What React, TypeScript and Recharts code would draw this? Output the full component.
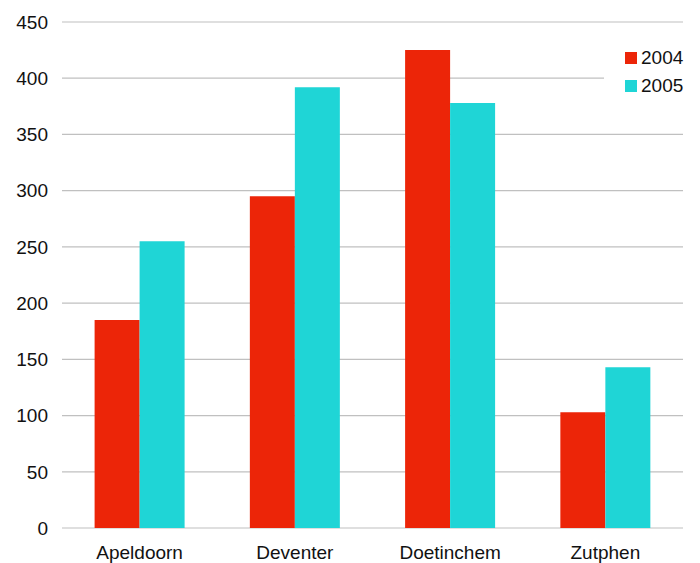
import { BarChart, Bar, XAxis, YAxis, CartesianGrid } from 'recharts';

const cities = ['Apeldoorn', 'Deventer', 'Doetinchem', 'Zutphen'];
const values2004 = [185, 295, 425, 103];
const values2005 = [255, 392, 378, 143];
const yTicks = [0, 50, 100, 150, 200, 250, 300, 350, 400, 450];

const RED = '#ec2508';
const CYAN = '#1fd5d6';
const FONT = '"Liberation Sans", Arial, Helvetica, sans-serif';

const series = [
  { key: '2004', color: RED },
  { key: '2005', color: CYAN },
];

const chartData = cities.map((city, i) => ({
  name: city,
  '2004': values2004[i],
  '2005': values2005[i],
}));

// legend sits on top of the plot with a white backing, hiding the gridline behind it
const LegendBox = () => (
  <div
    style={{
      position: 'absolute',
      top: 42,
      left: 604,
      width: 86,
      background: '#fff',
      padding: '2px 0 6px 21px',
      boxSizing: 'border-box',
      fontFamily: FONT,
      fontSize: 19,
      color: '#111',
      lineHeight: '28px',
    }}
  >
    {series.map((item) => (
      <div key={item.key} style={{ display: 'flex', alignItems: 'center' }}>
        <span
          style={{ width: 12, height: 12, background: item.color, display: 'inline-block', marginRight: 4 }}
        />
        {item.key}
      </div>
    ))}
  </div>
);

export default function App() {
  return (
    <div style={{ position: 'absolute', top: 0, left: 0, width: 700, height: 563, background: '#fff' }}>
      <BarChart
        width={700}
        height={563}
        data={chartData}
        margin={{ top: 22, right: 17, left: 0, bottom: 0 }}
        barCategoryGap="21%"
        barGap={0}
      >
        <CartesianGrid vertical={false} stroke="#c0c0c0" strokeWidth={1.2} />
        <XAxis
          dataKey="name"
          axisLine={false}
          tickLine={false}
          tickMargin={12}
          height={35}
          tick={{ fill: '#111', fontSize: 19, fontFamily: FONT }}
        />
        <YAxis
          domain={[0, 450]}
          ticks={yTicks}
          width={62}
          axisLine={false}
          tickLine={false}
          tickMargin={8}
          tick={{ fill: '#111', fontSize: 19, fontFamily: FONT }}
        />
        {series.map((s) => (
          <Bar key={s.key} dataKey={s.key} fill={s.color} isAnimationActive={false} />
        ))}
      </BarChart>
      <LegendBox />
    </div>
  );
}
